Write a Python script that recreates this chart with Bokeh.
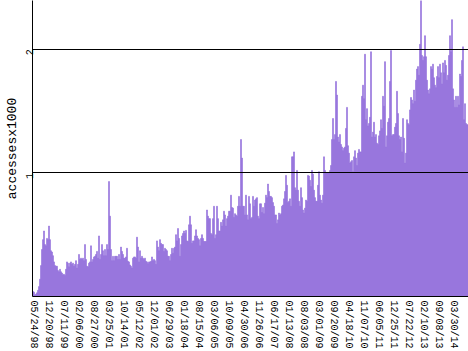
from math import pi
from bokeh.plotting import figure
from bokeh.models import Range1d, FixedTicker, ColumnDataSource
from bokeh.embed import file_html
from bokeh.resources import INLINE

# accesses (x1000), one value per bi-weekly period starting 05/24/98
accesses = [
    0.04, 0.035, 0.01, 0.02, 0.03, 0.05, 0.08, 0.14, 0.25, 0.38, 0.46, 0.53, 0.42, 0.41, 0.47, 0.46,
    0.57, 0.46, 0.37, 0.36, 0.33, 0.28, 0.25, 0.245, 0.245, 0.21, 0.2, 0.22, 0.2, 0.19, 0.175, 0.18,
    0.17, 0.22, 0.28, 0.27, 0.24, 0.27, 0.28, 0.26, 0.27, 0.245, 0.26, 0.29, 0.23, 0.26, 0.34, 0.3,
    0.31, 0.3, 0.31, 0.29, 0.42, 0.3, 0.245, 0.24, 0.27, 0.28, 0.41, 0.28, 0.3, 0.32, 0.325, 0.34,
    0.365, 0.31,
    0.49, 0.3, 0.34, 0.42, 0.37, 0.33, 0.38, 0.33, 0.42, 0.38, 0.93, 0.65, 0.38, 0.29, 0.325, 0.29,
    0.325, 0.325, 0.325, 0.3, 0.34, 0.3, 0.4, 0.365, 0.34, 0.31, 0.31, 0.32, 0.39, 0.285, 0.28, 0.255,
    0.245, 0.23, 0.31, 0.32, 0.32, 0.31, 0.48, 0.4, 0.28, 0.37, 0.31, 0.325, 0.31, 0.3, 0.31, 0.285,
    0.28, 0.265, 0.28, 0.28, 0.285, 0.32, 0.29, 0.3, 0.29, 0.26, 0.45, 0.4, 0.37, 0.46, 0.43, 0.42,
    0.42, 0.365, 0.39, 0.38,
    0.37, 0.325, 0.325, 0.29, 0.34, 0.39, 0.35, 0.39, 0.4, 0.5, 0.45, 0.55, 0.47, 0.325, 0.42, 0.49,
    0.51, 0.53, 0.51, 0.535, 0.45, 0.445, 0.58, 0.65, 0.58, 0.43, 0.45, 0.45, 0.49, 0.54, 0.49, 0.47,
    0.46, 0.41, 0.47, 0.5, 0.47, 0.445, 0.445, 0.445, 0.7, 0.65, 0.63, 0.63, 0.51, 0.5, 0.63, 0.73,
    0.47, 0.5, 0.73, 0.63, 0.53, 0.53, 0.6, 0.57, 0.62, 0.69, 0.66, 0.57, 0.63, 0.65, 0.69, 0.69,
    0.82, 0.72, 0.715, 0.64,
    0.67, 0.66, 0.65, 0.73, 0.81, 0.73, 1.27, 1.12, 0.73, 0.73, 0.66, 0.82, 0.66, 0.62, 0.81, 0.75,
    0.63, 0.64, 0.81, 0.73, 0.78, 0.79, 0.8, 0.65, 0.63, 0.75, 0.75, 0.68, 0.72, 0.67, 0.755, 0.82,
    0.8, 0.91, 0.85, 0.81, 0.81, 0.8, 0.76, 0.73, 0.66, 0.66, 0.59, 0.62, 0.675, 0.66, 0.67, 0.73,
    0.74, 0.79, 0.85, 0.98, 0.9, 0.76, 0.77, 0.79, 0.73, 1.13, 1.13, 1.17, 0.88, 0.86, 1.02, 0.86,
    0.77, 0.73, 0.88, 0.8,
    0.7, 0.675, 0.715, 0.78, 0.77, 0.98, 0.975, 0.94, 0.89, 1.02, 0.99, 0.86, 0.8, 0.77, 0.77, 0.9,
    1.01, 0.82, 0.78, 0.755, 0.82, 1.13, 1.02, 1.0, 1.0, 1.0, 1.0, 1.02, 1.06, 1.27, 1.44, 1.27,
    1.31, 1.74, 1.63, 1.29, 1.25, 1.31, 1.23, 1.21, 1.18, 1.2, 1.21, 1.36, 1.53, 1.22, 1.16, 1.08,
    1.09, 1.1, 1.01, 1.13, 1.18, 1.12, 1.06, 1.16, 1.19, 1.17, 1.17, 1.62, 1.71, 1.6, 1.96, 1.43,
    1.52, 1.38, 1.4, 1.45,
    1.98, 1.29, 1.33, 1.41, 1.29, 1.31, 1.24, 1.23, 1.3, 1.34, 1.43, 1.36, 1.62, 1.54, 1.9, 1.21,
    1.3, 1.41, 1.44, 1.74, 1.99, 1.3, 1.31, 1.31, 1.37, 1.4, 1.66, 1.48, 1.3, 1.27, 1.29, 1.17,
    1.44, 1.28, 1.08, 1.16, 1.43, 1.4, 1.39, 1.51, 1.61, 1.59, 1.56, 1.67, 1.58, 1.75, 1.84, 1.86,
    1.79, 2.04,
    2.4, 1.95, 1.91, 1.94, 2.11, 1.94, 1.75, 1.67, 1.64, 1.68, 1.86, 1.84, 1.88, 1.77, 1.71, 1.69,
    1.78, 1.86, 1.77, 1.88, 1.81, 1.72, 1.89, 1.81, 1.91, 1.87, 1.75, 1.79, 1.95, 2.11, 1.98, 2.24,
    1.68, 1.59, 1.53, 1.62, 1.53, 1.62, 1.55, 1.8, 1.78, 1.91, 2.02, 1.43, 1.56, 1.4, 1.39, 1.39,
]

date_labels = [
    "05/24/98", "12/20/98", "07/11/99", "02/06/00", "08/27/00", "03/25/01", "10/14/01",
    "05/12/02", "12/01/02", "06/29/03", "01/18/04", "08/15/04", "03/06/05", "10/09/05",
    "04/30/06", "11/26/06", "06/17/07", "01/13/08", "08/03/08", "03/01/09", "09/20/09",
    "04/18/10", "11/07/10", "06/05/11", "12/25/11", "07/22/12", "02/10/13", "09/08/13",
    "03/30/14",
]
label_step = 15
y_ticks = [1, 2]
y_max = 2.395

FONT = "Liberation Mono"
BAR = "#9370DB"

idx = list(range(len(accesses)))
src = ColumnDataSource(dict(x=idx, top=accesses))

p = figure(width=468, height=351, output_backend="svg", toolbar_location=None,
           x_range=Range1d(-0.5, len(accesses) - 0.5), y_range=Range1d(0, y_max),
           min_border_left=32, min_border_right=0, min_border_top=0, min_border_bottom=54)
p.outline_line_color = None
p.background_fill_color = "white"
p.border_fill_color = "white"

p.vbar(x="x", top="top", width=1, source=src, fill_color=BAR, line_color=BAR, line_width=0.6)

# x axis
x_ticks = [i * label_step for i in range(len(date_labels))]
p.xaxis.ticker = FixedTicker(ticks=x_ticks)
p.xaxis.major_label_overrides = {t: lab for t, lab in zip(x_ticks, date_labels)}
p.xaxis.major_label_orientation = "vertical"
p.xaxis.major_label_text_font = FONT
p.xaxis.major_label_text_font_size = "10px"
p.xaxis.major_label_text_color = "black"
p.xaxis.major_label_standoff = 4
p.xaxis.major_tick_line_color = None
p.xaxis.major_tick_out = 0
p.xaxis.major_tick_in = 0
p.xaxis.minor_tick_line_color = None
p.xaxis.axis_line_color = "black"

# y axis
p.yaxis.ticker = FixedTicker(ticks=y_ticks)
p.yaxis.major_label_orientation = pi / 2
p.yaxis.major_label_text_font = FONT
p.yaxis.major_label_text_font_size = "10px"
p.yaxis.major_label_text_color = "black"
p.yaxis.major_label_standoff = 3
p.yaxis.major_tick_line_color = None
p.yaxis.major_tick_out = 0
p.yaxis.major_tick_in = 0
p.yaxis.minor_tick_line_color = None
p.yaxis.axis_line_color = "black"
p.yaxis.axis_label = "accessesx1000"
p.yaxis.axis_label_text_font = FONT
p.yaxis.axis_label_text_font_size = "13px"
p.yaxis.axis_label_text_font_style = "normal"
p.yaxis.axis_label_text_color = "black"
p.yaxis.axis_label_standoff = 0

# grid
p.xgrid.grid_line_color = None
p.ygrid.ticker = FixedTicker(ticks=y_ticks)
p.ygrid.grid_line_color = "black"
p.ygrid.grid_line_alpha = 1.0
p.ygrid.grid_line_width = 1
p.ygrid.level = "overlay"

open("out.html", "w").write(file_html(p, INLINE))
